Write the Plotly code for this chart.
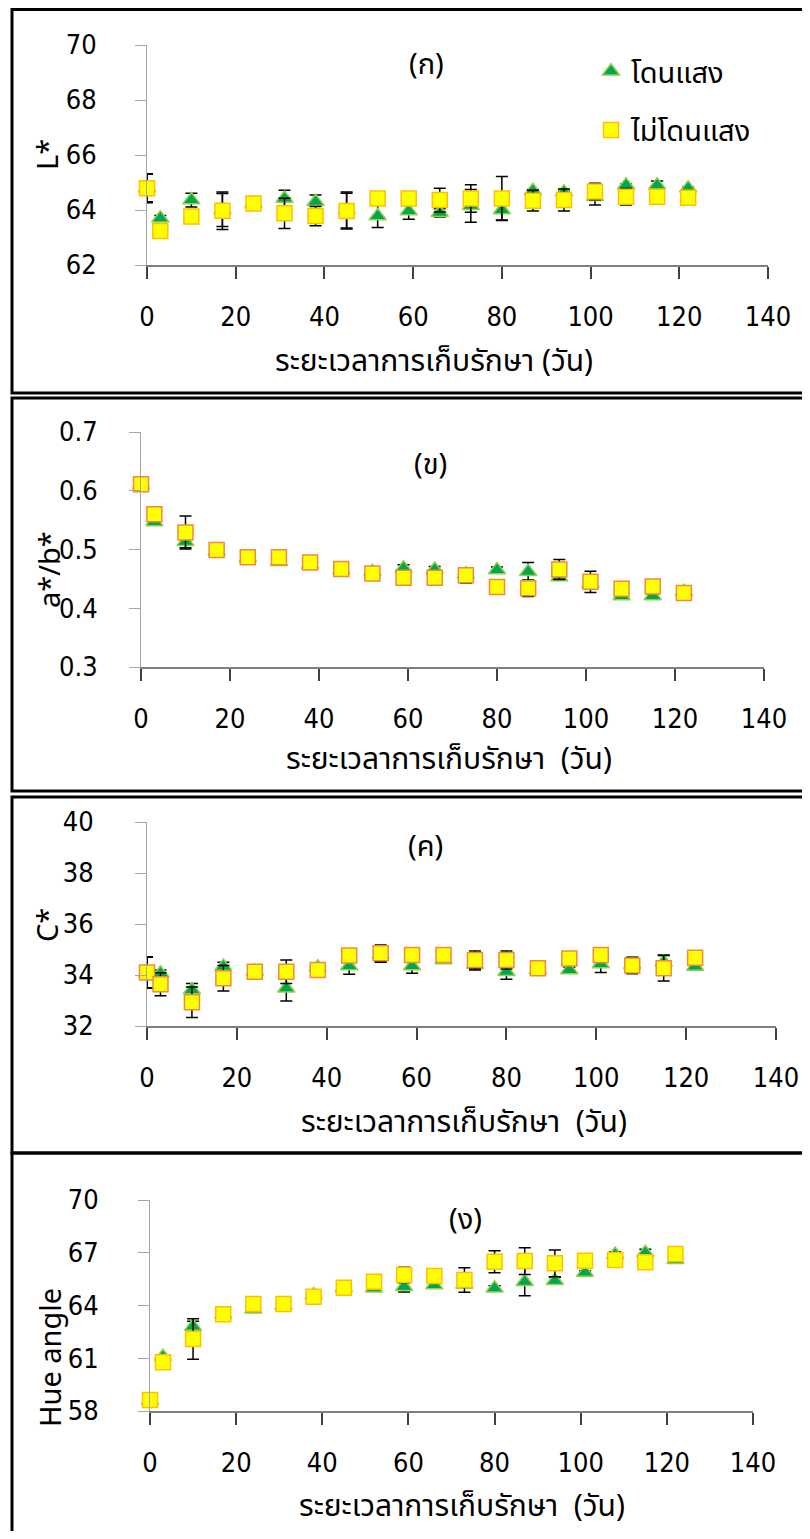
import plotly.graph_objects as go

# browser window size; the page body keeps its default 8 px margin
W, H = 810, 1539
M = 8
FW, FH = W - 2 * M, H - 2 * M

# storage days
days = [0, 3, 10, 17, 24, 31, 38, 45, 52, 59, 66, 73, 80, 87, 94, 101, 108, 115, 122]

# (ก) L*
L_light = [64.8, 63.7, 64.36, 64.0, 64.24, 64.42, 64.3, 64.0, 63.78, 63.96, 63.9, 64.15, 64.0, 64.7, 64.65, 64.48, 64.9, 64.9, 64.79]
L_light_err = [0.5, 0.1, 0.25, 0.6, 0.2, 0.3, 0.25, 0.65, 0.42, 0.3, 0.15, 0.6, 0.36, 0.05, 0.05, 0.3, 0.05, 0.15, 0.05]
L_dark = [64.79, 63.24, 63.76, 63.97, 64.24, 63.88, 63.78, 63.96, 64.42, 64.42, 64.36, 64.42, 64.42, 64.34, 64.36, 64.67, 64.48, 64.48, 64.45]
L_dark_err = [0.53, 0.1, 0.1, 0.68, 0.2, 0.55, 0.35, 0.65, 0.1, 0.2, 0.43, 0.5, 0.8, 0.38, 0.4, 0.3, 0.3, 0.1, 0.1]

# (ข) a*/b*
AB_light = [0.61, 0.547, 0.513, 0.497, 0.486, 0.479, 0.474, 0.465, 0.462, 0.468, 0.466, 0.458, 0.465, 0.462, 0.453, 0.442, 0.421, 0.421, 0.428]
AB_light_err = [0.005, 0.003, 0.01, 0.003, 0.003, 0.003, 0.003, 0.003, 0.004, 0.006, 0.005, 0.005, 0.005, 0.016, 0.004, 0.004, 0.003, 0.003, 0.003]
AB_dark = [0.611, 0.56, 0.529, 0.499, 0.487, 0.487, 0.478, 0.467, 0.459, 0.452, 0.452, 0.456, 0.436, 0.434, 0.466, 0.445, 0.433, 0.437, 0.426]
AB_dark_err = [0.005, 0.005, 0.028, 0.005, 0.005, 0.005, 0.005, 0.005, 0.005, 0.005, 0.008, 0.013, 0.012, 0.014, 0.017, 0.018, 0.005, 0.005, 0.005]

# (ค) C*
C_light = [34.1, 34.07, 33.41, 34.33, 34.15, 33.48, 34.3, 34.35, 34.8, 34.35, 34.59, 34.4, 34.13, 34.2, 34.2, 34.43, 34.4, 34.5, 34.33]
C_light_err = [0.6, 0.13, 0.26, 0.17, 0.1, 0.5, 0.1, 0.32, 0.3, 0.28, 0.1, 0.2, 0.3, 0.1, 0.1, 0.33, 0.3, 0.28, 0.1]
C_dark = [34.1, 33.64, 32.93, 33.87, 34.13, 34.13, 34.2, 34.76, 34.85, 34.78, 34.78, 34.59, 34.59, 34.26, 34.65, 34.78, 34.37, 34.26, 34.68]
C_dark_err = [0.62, 0.45, 0.6, 0.5, 0.12, 0.46, 0.1, 0.15, 0.33, 0.15, 0.1, 0.35, 0.35, 0.1, 0.15, 0.15, 0.32, 0.5, 0.1]

# (ง) Hue angle
H_light = [58.6, 61.09, 62.8, 63.5, 63.78, 64.0, 64.6, 65.0, 64.98, 65.07, 65.16, 65.2, 64.98, 65.35, 65.41, 65.87, 66.9, 67.0, 66.6]
H_light_err = [0.1, 0.1, 0.3, 0.1, 0.1, 0.3, 0.1, 0.1, 0.1, 0.3, 0.1, 0.1, 0.15, 0.8, 0.2, 0.1, 0.15, 0.2, 0.1]
H_dark = [58.62, 60.77, 62.09, 63.5, 64.08, 64.08, 64.5, 65.01, 65.35, 65.73, 65.68, 65.45, 66.49, 66.53, 66.4, 66.55, 66.59, 66.46, 66.93]
H_dark_err = [0.1, 0.1, 1.15, 0.2, 0.2, 0.3, 0.1, 0.1, 0.1, 0.44, 0.2, 0.7, 0.63, 0.76, 0.76, 0.2, 0.2, 0.2, 0.15]

names = ["โดนแสง", "ไม่โดนแสง"]
panel_labels = ["(ก)", "(ข)", "(ค)", "(ง)"]
y_titles = ["L*", "a*/b*", "C*", "Hue angle"]
x_titles = ["ระยะเวลาการเก็บรักษา (วัน)", "ระยะเวลาการเก็บรักษา  (วัน)",
            "ระยะเวลาการเก็บรักษา  (วัน)", "ระยะเวลาการเก็บรักษา  (วัน)"]

NUM_FONT = "DejaVu Sans Condensed, Liberation Sans Narrow, Roboto Condensed, DejaVu Sans, sans-serif"
THAI_FONT = "Noto Sans Thai, Noto Sans Thai UI, Garuda, Loma, Noto Sans, DejaVu Sans, sans-serif"


def px(x):
    # window pixel -> paper fraction
    return (x - M) / FW


def py(y):
    return 1 - (y - M) / FH


# panel geometry in window pixels
panels = [
    dict(x0=147, x1=768, yt=45, yb=265, yr=[62, 70], dt=2, so=33, sq_line="#FFC000",
         lab=(426, 65), yt_pos=(46, 155), xt_pos=(434, 362), box=(9.5, 393),
         light=(L_light, L_light_err), dark=(L_dark, L_dark_err)),
    dict(x0=141, x1=764, yt=432, yb=667, yr=[0.3, 0.7], dt=0.1, so=26, sq_line="#F08A3C",
         lab=(430, 465), yt_pos=(49, 570), xt_pos=(449, 760), box=(398, 791),
         light=(AB_light, AB_light_err), dark=(AB_dark, AB_dark_err)),
    dict(x0=147, x1=776, yt=822, yb=1026, yr=[32, 40], dt=2, so=36, sq_line="#F08A3C",
         lab=(425, 847), yt_pos=(46, 925), xt_pos=(464, 1123), box=(797, 1153),
         light=(C_light, C_light_err), dark=(C_dark, C_dark_err)),
    dict(x0=150, x1=753, yt=1200, yb=1411, yr=[58, 70], dt=3, so=34, sq_line="#FFC000",
         lab=(466, 1220), yt_pos=(49, 1358), xt_pos=(462, 1507), box=(1153, 1560),
         light=(H_light, H_light_err), dark=(H_dark, H_dark_err)),
]

fig = go.Figure()
annotations = []
shapes = []

for i, p in enumerate(panels):
    n = i + 1
    xa = "x" if n == 1 else f"x{n}"
    ya = "y" if n == 1 else f"y{n}"
    lv, le = p["light"]
    dv, de = p["dark"]

    fig.add_trace(go.Scatter(
        x=days, y=lv, mode="markers", name=names[0], xaxis=xa, yaxis=ya,
        legendgroup="a", showlegend=(n == 1), cliponaxis=False,
        marker=dict(symbol="triangle-up", size=15, color="#00A650",
                    line=dict(color="#92D050", width=1.5)),
        error_y=dict(type="data", array=le, color="#000000", thickness=1.5, width=6),
    ))
    fig.add_trace(go.Scatter(
        x=days, y=dv, mode="markers", name=names[1], xaxis=xa, yaxis=ya,
        legendgroup="b", showlegend=(n == 1), cliponaxis=False,
        marker=dict(symbol="square", size=15, color="#FFFF00",
                    line=dict(color=p["sq_line"], width=1.5)),
        error_y=dict(type="data", array=de, color="#000000", thickness=1.5, width=6),
    ))

    xkey = "xaxis" if n == 1 else f"xaxis{n}"
    ykey = "yaxis" if n == 1 else f"yaxis{n}"
    fig.update_layout({
        xkey: dict(domain=[px(p["x0"]), px(p["x1"])], anchor=ya, range=[0, 140],
                   tick0=0, dtick=20, automargin=False,
                   showgrid=False, zeroline=False, showline=True, linecolor="#7F7F7F",
                   linewidth=1.5, ticks="outside", ticklen=12, tickwidth=1.5,
                   tickcolor="#404040", ticklabelstandoff=15,
                   tickfont=dict(family=NUM_FONT, size=27, color="#000000")),
        ykey: dict(domain=[py(p["yb"]), py(p["yt"])], anchor=xa, range=p["yr"],
                   tick0=p["yr"][0], dtick=p["dt"], automargin=False,
                   showgrid=False, zeroline=False, showline=True, linecolor="#A6A6A6",
                   linewidth=1, ticks="outside", ticklen=11, tickwidth=1,
                   tickcolor="#A6A6A6", ticklabelstandoff=p["so"],
                   tickfont=dict(family=NUM_FONT, size=27, color="#000000")),
    })

    common = dict(xref="paper", yref="paper", showarrow=False,
                  xanchor="center", yanchor="middle")
    annotations.append(dict(x=px(p["lab"][0]), y=py(p["lab"][1]), text=panel_labels[i],
                            font=dict(family=THAI_FONT, size=29, color="#000000"), **common))
    annotations.append(dict(x=px(p["yt_pos"][0]), y=py(p["yt_pos"][1]), text=y_titles[i],
                            textangle=-90,
                            font=dict(family="Noto Sans, DejaVu Sans, sans-serif", size=29,
                                      color="#000000"), **common))
    annotations.append(dict(x=px(p["xt_pos"][0]), y=py(p["xt_pos"][1]), text=x_titles[i],
                            font=dict(family=THAI_FONT, size=30, color="#000000"), **common))

    top, bot = p["box"]
    shapes.append(dict(type="rect", xref="paper", yref="paper",
                       x0=px(12), x1=px(830), y0=py(bot), y1=py(top),
                       line=dict(color="#000000", width=3)))

fig.update_layout(
    width=FW, height=FH,
    margin=dict(l=0, r=0, t=0, b=0, pad=0, autoexpand=False),
    paper_bgcolor="#FFFFFF",
    plot_bgcolor="#FFFFFF",
    annotations=annotations,
    shapes=shapes,
    showlegend=True,
    legend=dict(x=px(591), y=py(46), xanchor="left", yanchor="top",
                bgcolor="rgba(0,0,0,0)", tracegroupgap=18,
                font=dict(family=THAI_FONT, size=29, color="#000000")),
)

fig.write_html("out.html")
